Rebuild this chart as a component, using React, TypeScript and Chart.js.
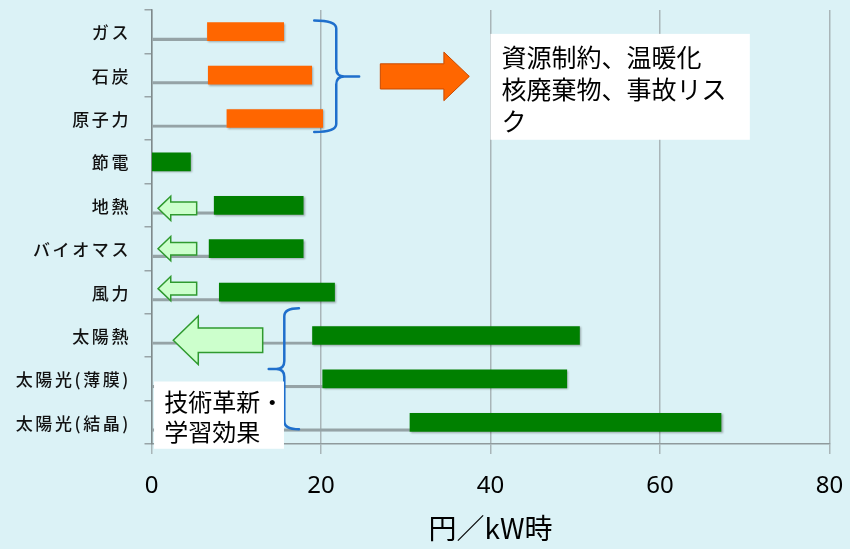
import React, { useEffect, useRef } from "react";
import { Chart, registerables } from "chart.js";

Chart.register(...registerables);

// ---- data ----
const categories = [
  "ガス",
  "石炭",
  "原子力",
  "節電",
  "地熱",
  "バイオマス",
  "風力",
  "太陽熱",
  "太陽光(薄膜)",
  "太陽光(結晶)",
];
const costLow = [6.6, 6.7, 8.9, 0, 7.4, 6.8, 8.0, 19.0, 20.2, 30.5];
const costHigh = [15.6, 18.9, 20.2, 4.6, 17.9, 17.9, 21.6, 50.5, 49.0, 67.2];
const groupKind = ["conv", "conv", "conv", "renew", "renew", "renew", "renew", "renew", "renew", "renew"];
const xTickValues = [0, 20, 40, 60, 80];
const axisTitle = "円／kW時";
const noteUpper = ["資源制約、温暖化", "核廃棄物、事故リス", "ク"];
const noteLower = ["技術革新・", "学習効果"];

// ---- styles ----
const JP = '"Noto Sans CJK JP", "Noto Sans", sans-serif';
const NUM = '"Noto Sans", "Noto Sans CJK JP", sans-serif';
const BG = "#dbf2f6";
const ORANGE = "#ff6600";
const GREEN = "#008000";
const BLUE = "#1f6fcc";

// annotation geometry (x in axis units, y in category-index units)
const braceUpper = { end: 19.2, spine: 21.8, tip: 24.5, top: -0.26, mid: 1.03, bot: 2.31 };
const arrowUpper = { tail: 27.0, head: 34.5, tip: 37.5, y: 1.03, body: 0.29, wing: 0.56 };
const boxUpper = { x1: 40.0, x2: 70.6, y1: 0.05, y2: 2.49, tx: 41.3, lines: [0.59, 1.33, 2.07] };
const smallArrows = [{ y: 4.07 }, { y: 5.0 }, { y: 5.92 }];
const smallArrowShape = { tip: 0.77, head: 2.27, tail: 5.33, body: 0.145, wing: 0.28 };
const bigArrow = { tip: 2.57, head: 5.52, tail: 13.12, y: 7.11, body: 0.28, wing: 0.56 };
const braceLower = { end: 17.4, spine: 15.67, tip: 13.83, top: 6.37, mid: 7.77, bot: 9.16 };
const boxLower = { x1: 0.3, x2: 15.63, y1: 8.06, y2: 9.61, tx: 1.51, lines: [8.54, 9.23] };

function drawBrace(ctx: CanvasRenderingContext2D, X: (v: number) => number, Y: (v: number) => number, b: any) {
  const xe = X(b.end), xs = X(b.spine), xt = X(b.tip);
  const yt = Y(b.top), ym = Y(b.mid), yb = Y(b.bot);
  const dir = Math.sign(xt - xs);
  const r = 8;
  ctx.save();
  ctx.strokeStyle = BLUE;
  ctx.lineWidth = 2.5;
  ctx.lineCap = "round";
  ctx.lineJoin = "round";
  ctx.beginPath();
  ctx.moveTo(xe, yt);
  ctx.quadraticCurveTo(xs, yt, xs, yt + r);
  ctx.lineTo(xs, ym - r);
  ctx.quadraticCurveTo(xs, ym, xs + dir * r, ym);
  ctx.lineTo(xt, ym);
  ctx.moveTo(xs + dir * r, ym);
  ctx.quadraticCurveTo(xs, ym, xs, ym + r);
  ctx.lineTo(xs, yb - r);
  ctx.quadraticCurveTo(xs, yb, xe, yb);
  ctx.stroke();
  ctx.restore();
}

function drawArrow(
  ctx: CanvasRenderingContext2D,
  X: (v: number) => number,
  Y: (v: number) => number,
  a: { tail: number; head: number; tip: number; y: number; body: number; wing: number },
  fill: string,
  stroke: string,
  lw: number
) {
  const x0 = X(a.tail), xh = X(a.head), xt = X(a.tip);
  const yc = Y(a.y);
  const bh = Y(a.y + a.body) - yc;
  const wh = Y(a.y + a.wing) - yc;
  ctx.save();
  ctx.beginPath();
  ctx.moveTo(x0, yc - bh);
  ctx.lineTo(xh, yc - bh);
  ctx.lineTo(xh, yc - wh);
  ctx.lineTo(xt, yc);
  ctx.lineTo(xh, yc + wh);
  ctx.lineTo(xh, yc + bh);
  ctx.lineTo(x0, yc + bh);
  ctx.closePath();
  ctx.fillStyle = fill;
  ctx.fill();
  ctx.strokeStyle = stroke;
  ctx.lineWidth = lw;
  ctx.lineJoin = "miter";
  ctx.stroke();
  ctx.restore();
}

function drawNote(ctx: CanvasRenderingContext2D, X: (v: number) => number, Y: (v: number) => number, b: any, lines: string[], size: number) {
  ctx.save();
  ctx.fillStyle = "#ffffff";
  ctx.fillRect(X(b.x1), Y(b.y1), X(b.x2) - X(b.x1), Y(b.y2) - Y(b.y1));
  ctx.fillStyle = "#000000";
  ctx.font = `${size}px ${JP}`;
  ctx.textAlign = "left";
  ctx.textBaseline = "middle";
  lines.forEach((t, i) => ctx.fillText(t, X(b.tx), Y(b.lines[i])));
  ctx.restore();
}

const bgPlugin = {
  id: "bg",
  beforeDraw(chart: any) {
    const { ctx, width, height } = chart;
    ctx.save();
    ctx.fillStyle = BG;
    ctx.fillRect(0, 0, width, height);
    ctx.restore();
  },
};

const shadowPlugin = {
  id: "barShadow",
  beforeDatasetDraw(chart: any, args: any) {
    if (args.index !== 0) return;
    const ctx = chart.ctx;
    ctx.save();
    ctx.shadowColor = "rgba(0,0,0,0.3)";
    ctx.shadowBlur = 2;
    ctx.shadowOffsetX = 1.2;
    ctx.shadowOffsetY = 1.2;
  },
  afterDatasetDraw(chart: any, args: any) {
    if (args.index !== 0) return;
    chart.ctx.restore();
  },
};

const notesPlugin = {
  id: "notes",
  afterDraw(chart: any) {
    const { ctx } = chart;
    const xs = chart.scales.x;
    const ys = chart.scales.y;
    const X = (v: number) => xs.getPixelForValue(v);
    const Y = (v: number) => ys.getPixelForValue(v);

    // category labels with letter spacing
    ctx.save();
    ctx.font = `500 17px ${JP}`;
    ctx.fillStyle = "#111111";
    ctx.textAlign = "right";
    ctx.textBaseline = "middle";
    try {
      (ctx as any).letterSpacing = "2.6px";
    } catch (e) {}
    categories.forEach((c, i) => ctx.fillText(c, ys.right - 20.5, Y(i) + 1));
    try {
      (ctx as any).letterSpacing = "0px";
    } catch (e) {}
    ctx.restore();

    drawBrace(ctx, X, Y, braceUpper);
    drawArrow(ctx, X, Y, arrowUpper, ORANGE, "#c84a00", 1);
    drawNote(ctx, X, Y, boxUpper, noteUpper, 25);

    smallArrows.forEach((s) =>
      drawArrow(ctx, X, Y, { ...smallArrowShape, y: s.y }, "#ccffcc", "#2f9a2f", 1.5)
    );
    drawArrow(ctx, X, Y, bigArrow, "#ccffcc", "#2f9a2f", 1.5);
    drawBrace(ctx, X, Y, braceLower);
    drawNote(ctx, X, Y, boxLower, noteLower, 24);
  },
};

export default function App() {
  const ref = useRef<HTMLCanvasElement>(null);

  useEffect(() => {
    if (!ref.current) return;
    const chart = new Chart(ref.current, {
      type: "bar",
      data: {
        labels: categories,
        datasets: [
          {
            label: "range",
            data: costLow.map((v, i) => [v, costHigh[i]]) as any,
            backgroundColor: groupKind.map((g) => (g === "conv" ? ORANGE : GREEN)),
            borderWidth: 0,
            barThickness: 18,
            grouped: false,
            order: 0,
          } as any,
          {
            label: "base",
            data: costLow.map((v) => [0, v]) as any,
            backgroundColor: "rgba(0,0,0,0)",
            borderColor: "#95a3a6",
            borderWidth: { top: 0, right: 0, bottom: 2.5, left: 0 },
            borderSkipped: false,
            barThickness: 18,
            grouped: false,
            order: 1,
          } as any,
        ],
      },
      options: {
        indexAxis: "y",
        animation: false,
        responsive: false,
        events: [],
        layout: { padding: { top: 10, right: 0, left: 0, bottom: 0 } },
        plugins: {
          legend: { display: false },
          tooltip: { enabled: false },
        },
        scales: {
          x: {
            type: "linear",
            min: xTickValues[0],
            max: xTickValues[xTickValues.length - 1],
            afterBuildTicks: (s: any) => {
              s.ticks = xTickValues.map((v) => ({ value: v }));
            },
            ticks: {
              color: "#000000",
              font: { family: NUM, size: 24 },
              padding: 18,
              maxRotation: 0,
            },
            grid: { color: "#a9b5b8", lineWidth: 1.5, tickLength: 10, drawTicks: true },
            border: { color: "#8f9a9c", width: 1.5 },
            title: {
              display: true,
              text: axisTitle,
              color: "#000000",
              font: { family: JP, size: 28 },
              padding: { top: 0, bottom: 4 },
            },
            afterFit: (s: any) => {
              s.height = 105;
              s.paddingLeft = 0;
              s.paddingRight = 20.5;
            },
          },
          y: {
            type: "category",
            ticks: { display: false },
            grid: { drawOnChartArea: false, tickLength: 7, color: "#98a4a7", lineWidth: 1.5, offset: true },
            border: { color: "#7f8a8c", width: 1.5 },
            afterFit: (s: any) => {
              s.width = 151.5;
            },
          },
        },
      } as any,
      plugins: [bgPlugin, shadowPlugin, notesPlugin],
    });
    return () => chart.destroy();
  }, []);

  return (
    <div style={{ position: "fixed", left: 0, top: 0, width: 850, height: 549, background: BG }}>
      <canvas ref={ref} width={850} height={549} style={{ display: "block" }} />
    </div>
  );
}
